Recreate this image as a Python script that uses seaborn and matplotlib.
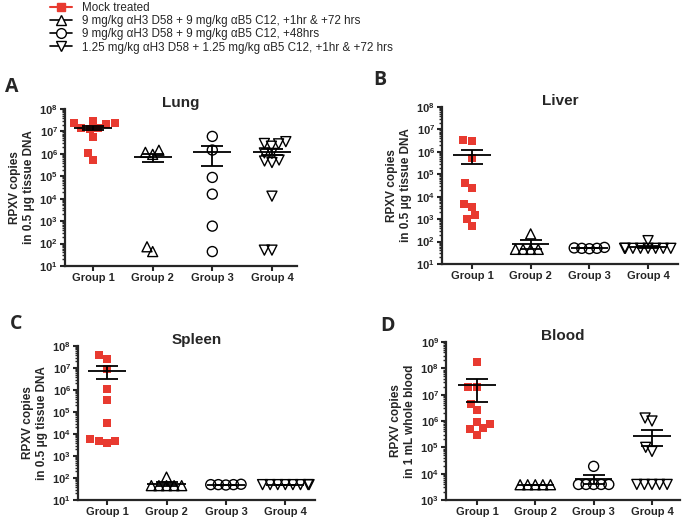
import numpy as np
import pandas as pd
import seaborn as sns
import matplotlib.pyplot as plt
from matplotlib.lines import Line2D
from matplotlib.ticker import FuncFormatter, LogLocator, NullFormatter

groups = ['Group 1', 'Group 2', 'Group 3', 'Group 4']

# RPXV copies per animal
lung_g1 = [3.0e7, 2.3e7, 2.1e7, 2.3e7, 1.4e7, 1.3e7, 1.4e7, 5.9e6, 1.1e6, 5.4e5]
lung_g2 = [1.17e6, 9.5e5, 1.45e6, 44, 72]
lung_g3 = [6.0e6, 1.48e6, 8.9e4, 1.6e4, 600, 44]
lung_g4 = [3.5e6, 2.8e6, 2.2e6, 2.9e6, 1.05e6, 1.1e6, 5.3e5, 4.1e5, 4.8e5, 1.3e4, 51, 51]

liver_g1 = [3.4e6, 3.2e6, 5.2e5, 4.2e4, 2.4e4, 4.8e3, 3.4e3, 1.5e3, 1.0e3, 500]
liver_g2 = [220, 45, 45, 45, 45]
liver_g3 = [50, 48, 52, 55, 50]
liver_g4 = [110, 50, 50, 50, 50, 50, 50, 50, 50]

spleen_g1 = [3.8e7, 2.6e7, 9.1e6, 1.07e6, 3.4e5, 3.1e4, 5.0e3, 3.9e3, 5.0e3, 5.9e3]
spleen_g2 = [110, 45, 45, 45, 45, 45]
spleen_g3 = [50, 50, 52, 48, 50]
spleen_g4 = [50, 50, 50, 50, 50, 50, 50, 50]

blood_g1 = [1.8e8, 1.96e7, 1.96e7, 4.3e6, 2.6e6, 9.5e5, 7.5e5, 5.2e5, 4.9e5, 3.0e5]
blood_g2 = [3.8e3, 3.8e3, 3.8e3, 3.8e3, 3.8e3]
blood_g3 = [1.9e4, 3.9e3, 3.9e3, 3.9e3, 3.9e3, 3.9e3]
blood_g4 = [1.0e6, 1.3e6, 1.0e5, 7.0e4, 3.9e3, 3.9e3, 3.9e3, 3.9e3, 3.9e3]

legend_labels = [
    'Mock treated',
    '9 mg/kg \u03b1H3 D58 + 9 mg/kg \u03b1B5 C12, +1hr & +72 hrs',
    '9 mg/kg \u03b1H3 D58 + 9 mg/kg \u03b1B5 C12, +48hrs',
    '1.25 mg/kg \u03b1H3 D58 + 1.25 mg/kg \u03b1B5 C12, +1hr & +72 hrs',
]

tissue_label = 'RPXV copies\nin 0.5 \u03bcg tissue DNA'
blood_label = 'RPXV copies\nin 1 mL whole blood'

RED = '#e83a30'
markers = ['s', '^', 'o', 'v']

sns.set_style('ticks')
plt.rcParams['font.family'] = ['Liberation Sans', 'DejaVu Sans']
plt.rcParams['font.weight'] = 'bold'
plt.rcParams['mathtext.fontset'] = 'custom'
plt.rcParams['mathtext.rm'] = 'Liberation Sans'
plt.rcParams['mathtext.bf'] = 'Liberation Sans:bold'

fig = plt.figure(figsize=(6.86, 5.28), dpi=100)

W, H = 686, 528


def px_axes(left, top, right, bottom):
    return fig.add_axes([left / W, 1 - bottom / H, (right - left) / W, (bottom - top) / H])


panels = [
    ('A', 'Lung', [lung_g1, lung_g2, lung_g3, lung_g4], (1, 8), tissue_label,
     (65, 109, 297, 266), (-0.47, 3.42), (12, 87)),
    ('B', 'Liver', [liver_g1, liver_g2, liver_g3, liver_g4], (1, 8), tissue_label,
     (442, 107, 678, 264), (-0.51, 3.51), (380, 80)),
    ('C', 'Spleen', [spleen_g1, spleen_g2, spleen_g3, spleen_g4], (1, 8), tissue_label,
     (78, 346, 315, 500), (-0.49, 3.5), (16, 324)),
    ('D', 'Blood', [blood_g1, blood_g2, blood_g3, blood_g4], (3, 9), blood_label,
     (446, 342, 680, 500), (-0.53, 3.48), (387, 326)),
]

open_points = []
axes = []
for letter, title, data, decades, ylabel, box, xlim, letter_xy in panels:
    ax = px_axes(*box)
    axes.append(ax)
    df = pd.DataFrame({
        'group': np.repeat(groups, [len(d) for d in data]),
        'copies': np.concatenate(data),
    })
    for g, mk in zip(groups, markers):
        sub = df[df['group'] == g]
        n_before = len(ax.collections)
        if mk == 's':
            sns.swarmplot(data=sub, x='group', y='copies', order=groups, ax=ax,
                          marker=mk, size=6, color=RED, linewidth=0,
                          log_scale=True, warn_thresh=1)
        else:
            sns.swarmplot(data=sub, x='group', y='copies', order=groups, ax=ax,
                          marker=mk, size=4.2, color='black', edgecolor='black',
                          linewidth=1.0, log_scale=True, warn_thresh=1)
            # seaborn also adds empty collections for the other categories
            new = [c for c in ax.collections[n_before:] if len(c.get_offsets()) > 0]
            open_points.extend(new)

    lo, hi = decades
    ax.set_ylim(10.0 ** lo, 10.0 ** hi)
    ax.set_xlim(*xlim)
    ax.set_xlabel('')
    ax.set_ylabel(ylabel, fontsize=8.5, fontweight='bold', labelpad=3)
    ax.set_title(title, fontsize=11, fontweight='bold', pad=1.5)

    ax.set_yticks(10.0 ** np.arange(lo, hi + 1))
    ax.yaxis.set_minor_locator(LogLocator(base=10, subs=np.arange(2, 10), numticks=15))
    ax.yaxis.set_minor_formatter(NullFormatter())
    ax.yaxis.set_major_formatter(FuncFormatter(
        lambda v, p: r'$\mathbf{10^{%d}}$' % int(round(np.log10(v)))))
    ax.tick_params(axis='both', which='major', width=1.5, length=3.5, labelsize=8, pad=1.5)
    ax.tick_params(axis='y', which='minor', width=1.0, length=2.2)
    ax.tick_params(axis='x', which='minor', bottom=False)
    for s in ['left', 'bottom']:
        ax.spines[s].set_linewidth(1.6)
    sns.despine(ax=ax)

    fig.text(letter_xy[0] / W, 1 - letter_xy[1] / H, letter, fontsize=14,
             fontweight='bold', family='Open Sans', ha='center', va='center')

# open (hollow) markers for the treated groups
for pts in open_points:
    pts.set_facecolor('none')
    pts.set_edgecolor('black')

# let seaborn place the swarms once, then freeze them and enlarge the open
# markers so they overlap like the Prism column scatter
fig.canvas.draw()
for pts in open_points:
    pts.__dict__.pop('draw', None)
    pts.set_sizes([7.2 ** 2])

# mean +/- SEM
for ax, (_, _, data, *_rest) in zip(axes, panels):
    for i, vals in enumerate(data):
        v = np.asarray(vals, dtype=float)
        mean = v.mean()
        sem = v.std(ddof=1) / np.sqrt(len(v))
        ax.hlines(mean, i - 0.32, i + 0.32, color='black', lw=1.3, zorder=5)
        ax.errorbar(i, mean, yerr=sem, color='black', lw=1.3, capsize=8,
                    capthick=1.3, zorder=5)

handles = [
    Line2D([], [], color=RED, marker='s', markersize=6, lw=1.5),
    Line2D([], [], color='black', marker='^', mfc='white', markersize=7, lw=1.2),
    Line2D([], [], color='black', marker='o', mfc='white', markersize=7, lw=1.2),
    Line2D([], [], color='black', marker='v', mfc='white', markersize=7, lw=1.2),
]
fig.legend(handles, legend_labels, loc='upper left', bbox_to_anchor=(50 / W, 1 - 2 / H),
           frameon=False, prop={'size': 8.4, 'weight': 'normal'}, handlelength=1.9,
           handletextpad=0.85, labelspacing=0.1, borderpad=0, borderaxespad=0)

fig.savefig('out.png', dpi=100)
